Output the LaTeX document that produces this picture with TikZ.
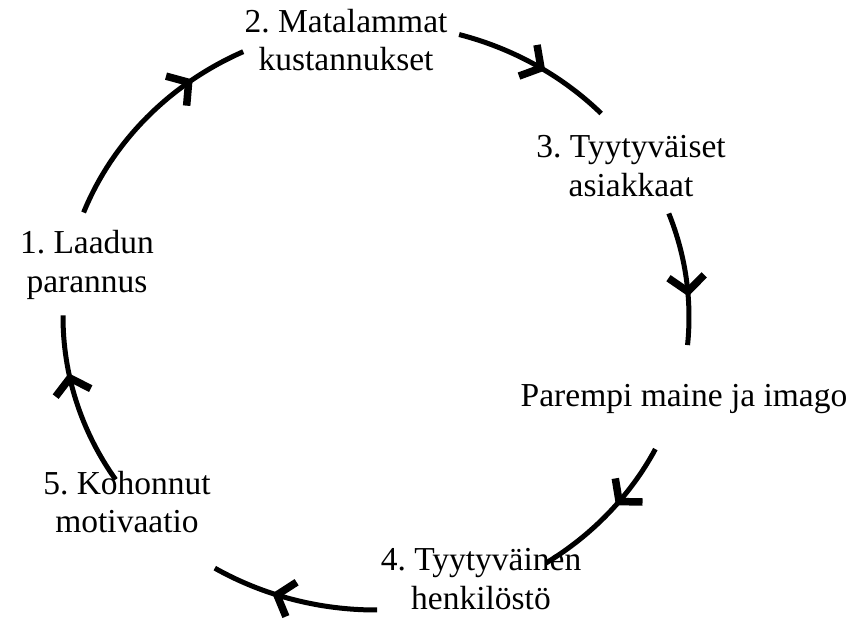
\documentclass[tikz,border=0pt]{standalone}
\usepackage{fontspec}
\setmainfont{Liberation Serif}
\usetikzlibrary{decorations.markings}
\tikzset{
  conn/.style={line width=5pt},
  lbl/.style={align=center, inner sep=0pt, font=\fontsize{33.5}{38.5}\selectfont},
  barbhead/.style={line width=7.5pt, line cap=butt, line join=miter},
  mk/.style={decoration={markings, mark=at position #1 with {\draw[barbhead] (-15,18) -- (0,0) -- (-15,-18);}}, postaction={decorate}}
}
\frenchspacing
\begin{document}
\begin{tikzpicture}[x=1pt,y=-1pt]
\useasboundingbox (0,0) rectangle (848,639);
\coordinate (O) at (376,317);
\node[lbl] (n2) at (346,40) {2. Matalammat\\kustannukset};
\node[lbl] (n3) at (631,166) {3. Tyytyväiset\\asiakkaat};
\node[lbl] (np) at (684,399) {Parempi maine ja imago};
\node[lbl] (n4) at (481,579) {4. Tyytyväinen\\henkilöstö};
\node[lbl] (n5) at (127,502) {5. Kohonnut\\motivaatio};
\node[lbl] (n1) at (87,265) {1. Laadun\\parannus};
\path (O) ++(200.9:313 and 293) coordinate (a1);
\path (O) ++(285.4:313 and 293) coordinate (b1);
\path (O) ++(339.3:313 and 293) coordinate (c1);
\path (O) ++(26.8:313 and 293) coordinate (d1);
\path (O) ++(89.8:313 and 293) coordinate (e1);
\path (O) ++(146.3:313 and 293) coordinate (f1);
\draw[conn, mk=0.73] (a1) arc[start angle=200.9, end angle=244.9, x radius=313, y radius=293];
\draw[conn, mk=0.54] (b1) arc[start angle=285.4, end angle=316, x radius=313, y radius=293];
\draw[conn, mk=0.6] (c1) arc[start angle=339.3, end angle=365.5, x radius=313, y radius=293];
\draw[conn, mk=0.4] (d1) arc[start angle=26.8, end angle=57.1, x radius=313, y radius=293];
\draw[conn, mk=0.6] (e1) arc[start angle=89.8, end angle=121, x radius=313, y radius=293];
\draw[conn, mk=0.64] (f1) arc[start angle=146.3, end angle=180.3, x radius=313, y radius=293];
\end{tikzpicture}
\end{document}
